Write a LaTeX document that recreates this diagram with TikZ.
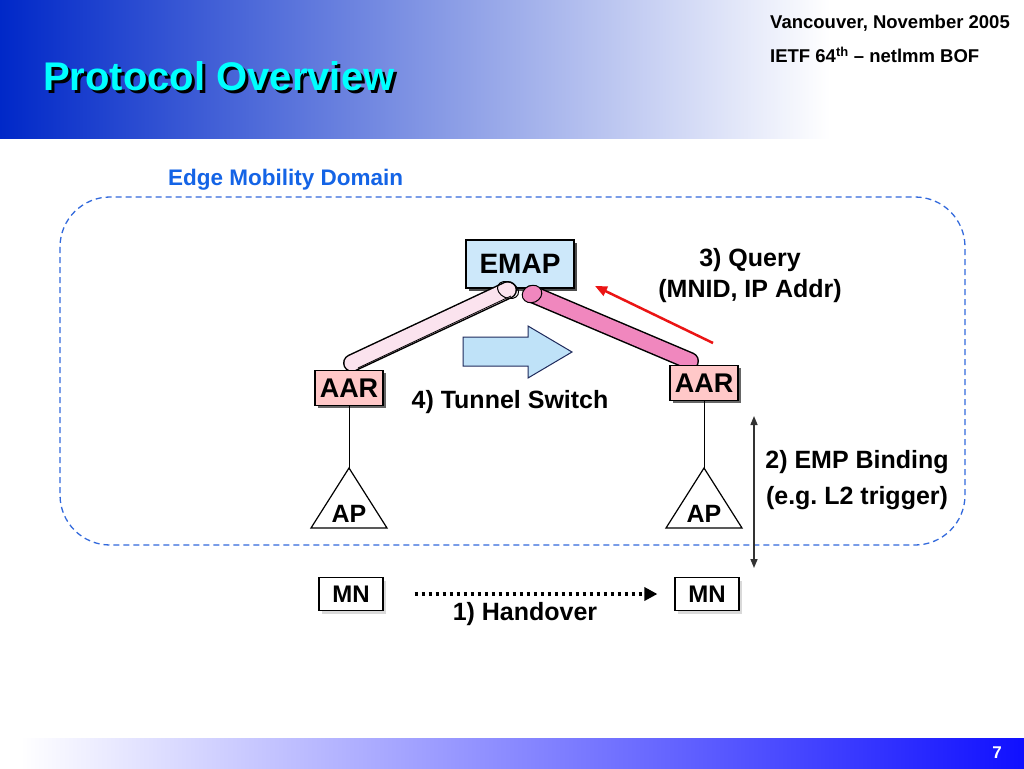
\documentclass[tikz,border=0pt]{standalone}
\usepackage{fontspec}
\setmainfont{Liberation Sans}
\usetikzlibrary{shadows,arrows.meta}
\definecolor{headblue}{RGB}{0,40,200}
\definecolor{titlecyan}{RGB}{0,255,255}
\definecolor{dashblue}{RGB}{50,105,220}
\definecolor{edgeblue}{RGB}{20,100,230}
\definecolor{emapfill}{RGB}{205,232,250}
\definecolor{aarfill}{RGB}{255,200,200}
\definecolor{tunlight}{RGB}{251,227,238}
\definecolor{tundark}{RGB}{240,135,190}
\definecolor{blkfill}{RGB}{191,226,248}
\definecolor{blkline}{RGB}{31,42,92}
\definecolor{footblue}{RGB}{16,16,255}
\definecolor{qred}{RGB}{235,20,20}
\tikzset{
  lbl/.style={font=\fontsize{25}{30}\selectfont\bfseries, inner sep=0pt},
  boxbase/.style={draw=black, line width=1.2pt, inner sep=0pt, font=\bfseries},
  emapbox/.style={boxbase, fill=emapfill, minimum width=108pt, minimum height=48pt,
     font=\fontsize{28}{32}\selectfont\bfseries,
     drop shadow={shadow xshift=3pt, shadow yshift=-3pt, fill=black!70, opacity=1}},
  aarbox/.style={boxbase, fill=aarfill, minimum width=68pt, minimum height=35pt,
     font=\fontsize{27}{30}\selectfont\bfseries,
     drop shadow={shadow xshift=2.5pt, shadow yshift=-2.5pt, fill=black!60, opacity=1}},
  mnbox/.style={boxbase, fill=white, minimum width=64pt, minimum height=33pt,
     font=\fontsize{24}{28}\selectfont\bfseries,
     drop shadow={shadow xshift=3pt, shadow yshift=-3pt, fill=black!15, opacity=1}},
  aptext/.style={inner sep=0pt, font=\fontsize{25}{28}\selectfont\bfseries},
  tri/.style={draw=black, line width=1.2pt, fill=white, line join=miter},
  tunout/.style={line width=18pt, line cap=round, draw=black},
}
\begin{document}
\frenchspacing
\begin{tikzpicture}[x=1pt,y=-1pt]
\useasboundingbox (0,0) rectangle (1024,768);
\fill[white] (0,0) rectangle (1024,768);
% header band
\shade[left color=headblue, right color=white] (0,0) rectangle (830,138);
% footer band
\shade[left color=white, right color=footblue] (20,738) rectangle (1024,768);
\node[anchor=base, text=white, inner sep=0pt, font=\fontsize{17}{20}\selectfont\bfseries] (pgno) at (997,758) {7};
% title with shadow
\node[anchor=base west, inner sep=0pt, font=\fontsize{40}{46}\selectfont\bfseries] (title) at (43,90)
  {\rlap{\hspace{3pt}\raisebox{-3pt}{\color{black}Protocol Overview}}\color{titlecyan}Protocol Overview};
% top right
\node[anchor=base west, inner sep=0pt, font=\fontsize{18.5}{22}\selectfont\bfseries] (venue) at (770,29) {Vancouver, November 2005};
\node[anchor=base west, inner sep=0pt, font=\fontsize{18.5}{22}\selectfont\bfseries] (ietf) at (770,63) {IETF 64\textsuperscript{th} – netlmm BOF};
% domain
\node[anchor=base west, inner sep=0pt, text=edgeblue, font=\fontsize{22.5}{26}\selectfont\bfseries] (domlbl) at (168,185) {Edge Mobility Domain};
\draw[dashblue, line width=1.3pt, dash pattern=on 6pt off 4pt, rounded corners=50pt] (60,197) rectangle (965,545);
% EMAP
\node[emapbox] (emap) at (520,264) {EMAP};
% tunnels
\coordinate (tlA) at (508,290);
\coordinate (tlB) at (352,363);
\coordinate (trA) at (532,294);
\coordinate (trB) at (690,361);
\draw[tunout] (tlA) -- (tlB);
\draw[line width=15pt, line cap=round, tunlight] (tlA) -- (tlB);
\draw[black, line width=0.8pt] (tlA) ++(3,6) -- ++(-153,72);
\draw[black, line width=1pt, rotate around={-25:(tlA)}] (tlA) ellipse (11pt and 8pt);
\draw[tunout] (trA) -- (trB);
\draw[line width=15pt, line cap=round, tundark] (trA) -- (trB);
\draw[black, fill=tundark, line width=1pt, rotate around={23:(trA)}] (trA) ellipse (10pt and 8.5pt);
% AAR nodes
\node[aarbox] (aarL) at (349,388) {AAR};
\node[aarbox] (aarR) at (704,383) {AAR};
% block arrow
\draw[blkline, fill=blkfill, line width=1pt, line join=miter]
  (463,337) -- (528,337) -- (528,326) -- (572,352) -- (528,378) -- (528,366) -- (463,366) -- cycle;
\node[lbl] (swlbl) at (510,402) {4) Tunnel Switch};
% query arrow
\coordinate (qA) at (713,343);
\coordinate (qB) at (595,286);
\draw[qred, line width=2.5pt, -{Triangle[length=12pt,width=10pt]}] (qA) -- (qB);
\node[lbl, align=center] (qlbl1) at (750,260) {3) Query};
\node[lbl, align=center] (qlbl2) at (750,291) {(MNID, IP Addr)};
% AP triangles
\coordinate (apLtop) at (349,468);
\coordinate (apRtop) at (704,468);
\draw[tri] (apLtop) -- (387,528) -- (311,528) -- cycle;
\draw[tri] (apRtop) -- (742,528) -- (666,528) -- cycle;
\node[aptext] (apL) at (349,514) {AP};
\node[aptext] (apR) at (704,514) {AP};
\draw[black, line width=0.7pt] (aarL.south) -- (apLtop);
\draw[black, line width=0.7pt] (aarR.south) -- (apRtop);
% MN
\node[mnbox] (mnL) at (351,594) {MN};
\node[mnbox] (mnR) at (707,594) {MN};
\draw[black, line width=4pt, dash pattern=on 3pt off 4pt, -{Triangle[length=13pt,width=13pt]}]
  ([xshift=31pt]mnL.east) -- ([xshift=-17pt]mnR.west);
\node[lbl] (holbl) at (525,614) {1) Handover};
% EMP binding
\coordinate (bA) at (754,416);
\coordinate (bB) at (754,568);
\draw[black!80, line width=1.5pt, {Triangle[length=9pt,width=7pt]}-{Triangle[length=9pt,width=7pt]}] (bA) -- (bB);
\node[lbl] (emp1) at (857,462) {2) EMP Binding};
\node[lbl] (emp2) at (857,498) {(e.g. L2 trigger)};
\end{tikzpicture}
\end{document}
